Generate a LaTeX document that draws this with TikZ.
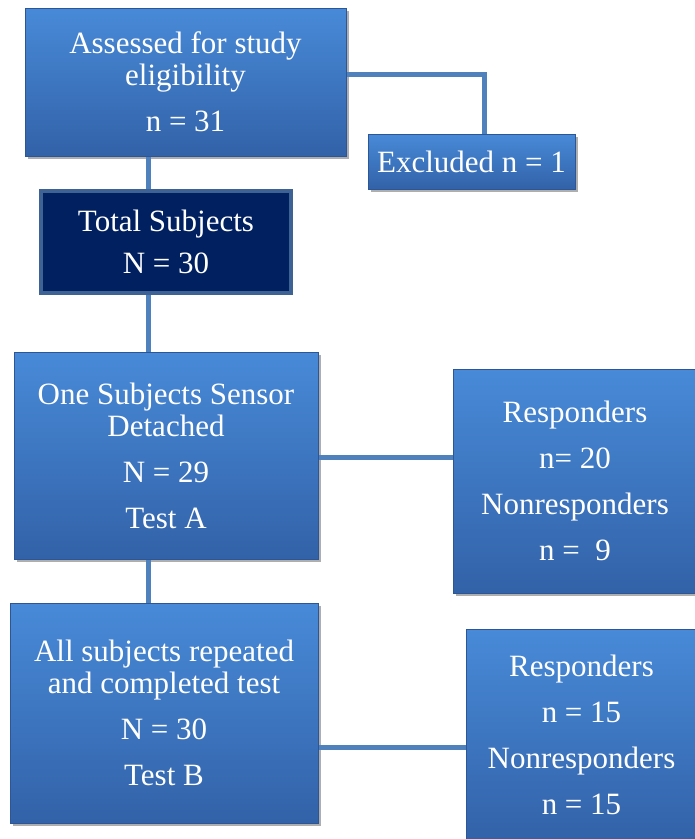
\documentclass[tikz,border=0pt]{standalone}
\usepackage{fontspec}
\setmainfont{Liberation Serif}
\usepackage{tikz}
\usepackage{xcolor}
\usetikzlibrary{shadows}
\definecolor{boxtop}{RGB}{72,138,216}
\definecolor{boxbottom}{RGB}{50,98,168}
\definecolor{boxedge}{RGB}{44,86,150}
\definecolor{navy}{RGB}{0,32,96}
\definecolor{navyedge}{RGB}{62,98,148}
\definecolor{linkblue}{RGB}{79,129,189}
\tikzstyle{box} = [rectangle, draw=boxedge, line width=1pt, top color=boxtop, bottom color=boxbottom, text=white, align=center, font=\fontsize{31}{32}\selectfont, inner sep=0pt, drop shadow={shadow xshift=3pt, shadow yshift=-3pt, opacity=0.45, fill=black!70}]
\tikzstyle{dark} = [rectangle, draw=navyedge, line width=4pt, fill=navy, text=white, align=center, font=\fontsize{31}{32}\selectfont, inner sep=0pt]
\tikzstyle{link} = [draw=linkblue, line width=5pt]

\begin{document}
\begin{tikzpicture}[x=1pt,y=-1pt]
  \useasboundingbox (0,0) rectangle (695,839);
  \node[box, minimum width=321pt, minimum height=148pt] (assessed) at (185.5,82) {Assessed for study\\eligibility\\[14pt]n = 31};
  \node[box, minimum width=207pt, minimum height=55pt] (excluded) at (471.5,161.5) {Excluded n = 1};
  \node[dark, minimum width=250pt, minimum height=102pt] (total) at (166,242) {Total Subjects\\[10pt]N = 30};
  \node[box, minimum width=304pt, minimum height=207pt] (testa) at (166,455.5) {One Subjects Sensor\\Detached\\[14pt]N = 29\\[14pt]Test A};
  \node[box, minimum width=244pt, minimum height=224pt] (respa) at (575,481) {Responders\\[14pt]n= 20\\[14pt]Nonresponders\\[14pt]n = \ 9};
  \node[box, minimum width=308pt, minimum height=220pt] (testb) at (164,713) {All subjects repeated\\and completed test\\[14pt]N = 30\\[14pt]Test B};
  \node[box, minimum width=231pt, minimum height=212pt] (respb) at (581.5,735) {Responders\\[14pt]n = 15\\[14pt]Nonresponders\\[14pt]n = 15};

  \coordinate (spine) at (148,0);
  \coordinate (elbow) at (484,74);
  \coordinate (levela) at (0,457);
  \coordinate (levelb) at (0,747);

  \path[link] (spine |- assessed.south) edge (spine |- total.north);
  \path[link] (spine |- total.south) edge (spine |- testa.north);
  \path[link] (spine |- testa.south) edge (spine |- testb.north);
  \draw[link] (elbow -| assessed.east) -- (elbow) -- (elbow |- excluded.north);
  \path[link] (levela -| testa.east) edge (levela -| respa.west);
  \path[link] (levelb -| testb.east) edge (levelb -| respb.west);
\end{tikzpicture}
\end{document}
